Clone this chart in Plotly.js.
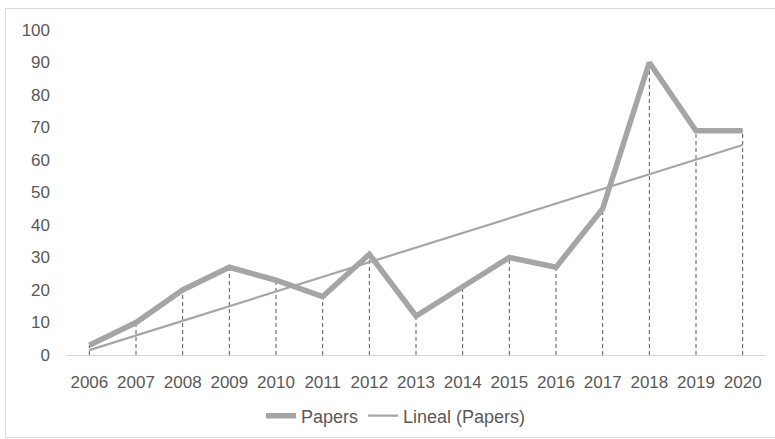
<!DOCTYPE html>
<html>
<head>
<meta charset="utf-8">
<script src="https://cdn.plot.ly/plotly-3.0.1.min.js"></script>
<style>
  html, body { margin: 0; padding: 0; background: #ffffff; }
  #chart { width: 775px; height: 439px; }
</style>
</head>
<body>
<div id="chart"></div>
<script>
// Data
const years = ['2006','2007','2008','2009','2010','2011','2012','2013','2014','2015','2016','2017','2018','2019','2020'];
const papers = [3, 10, 20, 27, 23, 18, 31, 12, 21, 30, 27, 45, 90, 69, 69];
const trendYears = ['2006', '2020'];
const trendValues = [1.5, 64.6];
const yTicks = [0, 10, 20, 30, 40, 50, 60, 70, 80, 90, 100];

// Drop lines from each point down to the axis
const dropX = [], dropY = [];
years.forEach((yr, i) => { dropX.push(yr, yr, null); dropY.push(0, papers[i], null); });

const textColor = '#595959';
const font = { family: 'Liberation Sans, Arial, sans-serif', size: 17, color: textColor };

const traces = [
  {
    x: dropX, y: dropY, type: 'scatter', mode: 'lines',
    line: { color: '#595959', width: 1, dash: '4px,3px' },
    showlegend: false, hoverinfo: 'skip'
  },
  {
    x: years, y: papers, type: 'scatter', mode: 'lines', name: 'Papers',
    line: { color: '#A5A5A5', width: 5.5 }
  },
  {
    x: trendYears, y: trendValues, type: 'scatter', mode: 'lines', name: 'Lineal (Papers)',
    line: { color: '#A5A5A5', width: 2.2 }
  }
];

// plot area: x 66..766, y 30..355
const W = 775, H = 439;
const L = 66, R = 766, T = 30, B = 355;
const px = v => (v - L) / (R - L);
const py = v => (B - v) / (B - T);

const layout = {
  width: W, height: H,
  margin: { l: L, r: W - R, t: T, b: H - B, pad: 0 },
  paper_bgcolor: '#ffffff', plot_bgcolor: '#ffffff',
  font: font,
  showlegend: true,
  legend: {
    orientation: 'h',
    xref: 'container', yref: 'container',
    x: 261 / W, xanchor: 'left', y: 1 - 416 / H, yanchor: 'middle',
    font: { family: font.family, size: 18, color: textColor },
    traceorder: 'normal'
  },
  xaxis: {
    type: 'category', categoryorder: 'array', categoryarray: years,
    range: [-0.5, years.length - 0.5],
    showgrid: false, zeroline: false,
    showline: true, linecolor: '#D9D9D9', linewidth: 1,
    ticks: '', ticklabelstandoff: 12,
    tickfont: { family: font.family, size: 17, color: textColor },
    fixedrange: true
  },
  yaxis: {
    range: [0, 100], tickmode: 'array', tickvals: yTicks, ticktext: yTicks.map(String),
    showgrid: false, zeroline: false, showline: false,
    ticks: '', ticklabelstandoff: 15,
    tickfont: { family: font.family, size: 17, color: textColor },
    fixedrange: true
  },
  shapes: [
    {
      type: 'rect', xref: 'paper', yref: 'paper',
      x0: px(5.5), x1: px(790), y0: py(437.5), y1: py(8.5),
      line: { color: '#D9D9D9', width: 1 }, fillcolor: 'rgba(0,0,0,0)', layer: 'below'
    }
  ]
};

Plotly.newPlot('chart', traces, layout, { displayModeBar: false, staticPlot: true });
</script>
</body>
</html>
